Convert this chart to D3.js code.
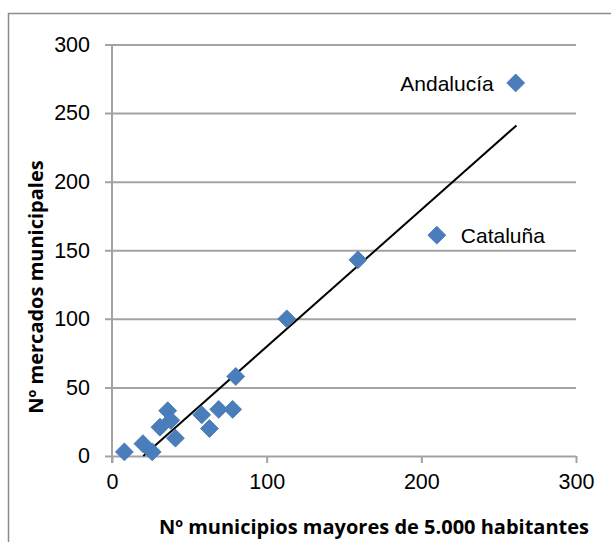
<!DOCTYPE html>
<html>
<head>
<meta charset="utf-8">
<script src="https://cdn.jsdelivr.net/npm/d3@7"></script>
<style>
    body { margin: 0; background: #fff; }
    svg { display: block; }
</style>
</head>
<body>
<svg></svg>
<script>
const width = 611;
const height = 542;

// datos: municipios > 5.000 hab. frente a mercados municipales
const municipios = [8, 20, 26, 31, 36, 38, 41, 58, 63, 69, 78, 80, 113, 159, 210, 261];
const mercados = [3, 9, 3, 21, 33, 26, 13, 30, 20, 34, 34, 58, 100, 143, 161, 272];
const nombres = ["", "", "", "", "", "", "", "", "", "", "", "", "", "", "Cataluña", "Andalucía"];

// línea de tendencia (extremos)
const trendX = [20.2, 261.5];
const trendY = [0, 241];

const xTicks = [0, 100, 200, 300];
const yTicks = [0, 50, 100, 150, 200, 250, 300];

const xTitle = "Nº municipios mayores de 5.000 habitantes";
const yTitle = "Nº mercados municipales";

let svg = d3.select("svg")
    .attr("width", width)
    .attr("height", height);

// marco exterior
svg.append("rect")
    .attr("x", 8.5)
    .attr("y", 13.5)
    .attr("width", 640)
    .attr("height", 560)
    .attr("fill", "none")
    .attr("stroke", "#8c8c8c")
    .attr("stroke-width", 1.5);

let scaleX = d3.scaleLinear()
    .domain([0, 300])
    .range([112, 576]);

let scaleY = d3.scaleLinear()
    .domain([0, 300])
    .range([456, 44.5]);

const gridColor = "#a3a3a3";

// rejilla horizontal + marcas del eje Y
let axisY = d3.axisLeft(scaleY)
    .tickValues(yTicks)
    .tickSize(-(576 - 112))
    .tickSizeOuter(0)
    .tickPadding(22)
    .tickFormat(d => d);

let gY = svg.append("g")
    .attr("transform", `translate(${scaleX(0)}, 0)`)
    .call(axisY);
gY.select(".domain").remove();
gY.selectAll(".tick line")
    .attr("x1", -7)
    .attr("stroke", gridColor)
    .attr("stroke-width", 2);
gY.selectAll(".tick text")
    .attr("fill", "#000")
    .style("font-family", "'Liberation Sans', Arial, sans-serif")
    .style("font-size", "21.5px");

// eje X
let axisX = d3.axisBottom(scaleX)
    .tickValues(xTicks)
    .tickSize(7)
    .tickSizeOuter(0)
    .tickPadding(11)
    .tickFormat(d => d);

let gX = svg.append("g")
    .attr("transform", `translate(0, ${scaleY(0)})`)
    .call(axisX);
gX.select(".domain").remove();
gX.selectAll(".tick line")
    .attr("stroke", gridColor)
    .attr("stroke-width", 2);
gX.selectAll(".tick text")
    .attr("fill", "#000")
    .style("font-family", "'Liberation Sans', Arial, sans-serif")
    .style("font-size", "21.5px");

// línea del eje Y
svg.append("line")
    .attr("x1", scaleX(0))
    .attr("x2", scaleX(0))
    .attr("y1", scaleY(300))
    .attr("y2", scaleY(0) + 7)
    .attr("stroke", gridColor)
    .attr("stroke-width", 2);

// tendencia
let lineXY = d3.line()
    .x(d => scaleX(d[0]))
    .y(d => scaleY(d[1]));

svg.append("path")
    .datum(d3.zip(trendX, trendY))
    .attr("d", lineXY)
    .attr("fill", "none")
    .attr("stroke", "#000")
    .attr("stroke-width", 2);

// puntos (rombos)
const puntos = d3.zip(municipios, mercados, nombres);
const rombo = d3.symbol().type(d3.symbolSquare).size(160);

svg.append("g")
    .selectAll("path")
    .data(puntos)
    .enter()
    .append("path")
    .attr("d", rombo)
    .attr("transform", d => `translate(${scaleX(d[0])}, ${scaleY(d[1])}) rotate(45)`)
    .attr("fill", "#4a7ebb")
    .attr("stroke", "#4475b0")
    .attr("stroke-width", 0.8);

// etiquetas de datos
svg.append("g")
    .selectAll("text")
    .data(puntos.filter(d => d[2] !== ""))
    .enter()
    .append("text")
    .attr("x", d => d[2] === "Andalucía" ? scaleX(d[0]) - 22 : scaleX(d[0]) + 24)
    .attr("y", d => scaleY(d[1]) + 8)
    .attr("text-anchor", d => d[2] === "Andalucía" ? "end" : "start")
    .style("font-family", "'Liberation Sans', Arial, sans-serif")
    .style("font-size", "21px")
    .attr("fill", "#000")
    .text(d => d[2]);

// títulos de ejes
svg.append("text")
    .attr("x", 374)
    .attr("y", 534)
    .attr("text-anchor", "middle")
    .style("font-family", "'Open Sans', sans-serif")
    .style("font-weight", "bold")
    .style("font-size", "20px")
    .text(xTitle);

svg.append("text")
    .attr("transform", "translate(43, 287) rotate(-90)")
    .attr("text-anchor", "middle")
    .style("font-family", "'Open Sans', sans-serif")
    .style("font-weight", "bold")
    .style("font-size", "20px")
    .text(yTitle);
</script>
</body>
</html>
